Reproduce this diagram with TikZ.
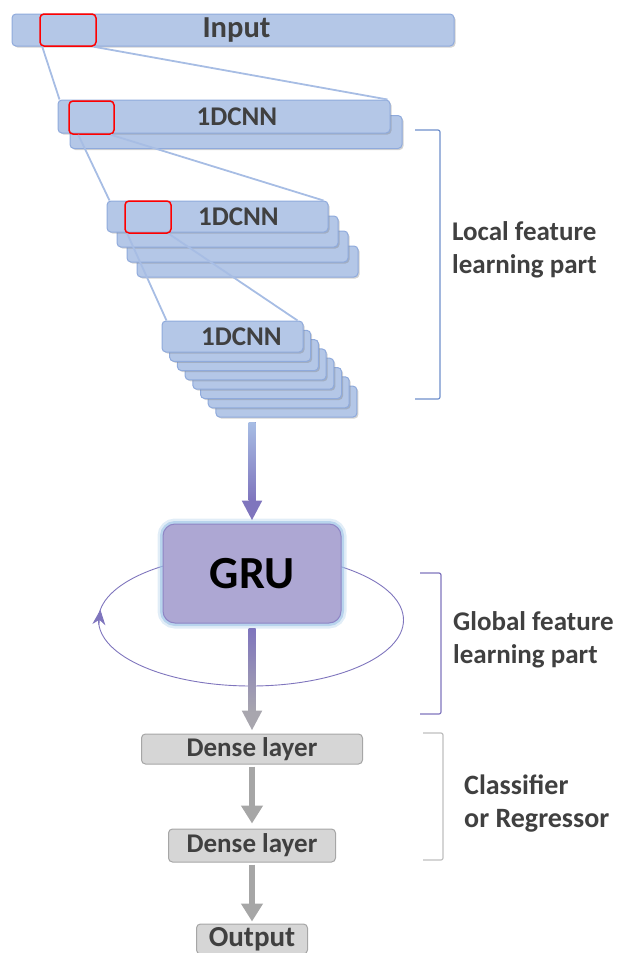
\documentclass[tikz,border=0pt]{standalone}
\usepackage{fontspec}
\setmainfont{Carlito}
\usepackage{tikz}
\usetikzlibrary{shapes,arrows.meta,positioning,calc,shadows}
\usepackage{xcolor}
\definecolor{layerfill}{HTML}{B4C7E7}
\definecolor{layerdraw}{HTML}{8FAADC}
\definecolor{linkblue}{HTML}{A7BDE4}
\definecolor{textgray}{HTML}{404040}
\definecolor{grufill}{HTML}{ADA7D3}
\definecolor{grudraw}{HTML}{8E85C5}
\definecolor{glowblue}{HTML}{9DC3E6}
\definecolor{loopviolet}{HTML}{7F75BD}
\definecolor{densefill}{HTML}{D6D6D6}
\definecolor{densedraw}{HTML}{A6A6A6}
\definecolor{arrowgray}{HTML}{A8A6AE}
\definecolor{bracketblue}{HTML}{6F8FCB}
\definecolor{bracketgray}{HTML}{BFBFBF}

\begin{document}
\begin{tikzpicture}[
    x=1pt, y=-1pt,
    layer/.style={rectangle, draw=layerdraw, fill=layerfill, line width=1pt, rounded corners=4pt, inner sep=0pt, drop shadow={shadow xshift=1.5pt, shadow yshift=-1.5pt, opacity=0.35}},
    lbl/.style={text=textgray, font=\bfseries\fontsize{27}{31}\selectfont},
    window/.style={rectangle, draw=red, line width=1.5pt, rounded corners=4pt, inner sep=0pt},
    link/.style={draw=linkblue, line width=1.8pt},
    gru/.style={rectangle, draw=grudraw, fill=grufill, line width=1pt, rounded corners=12pt, minimum width=178pt, minimum height=99pt, font=\bfseries\fontsize{46}{52}\selectfont,
        preaction={draw=glowblue, line width=11pt, opacity=0.3}, preaction={draw=glowblue, line width=6pt, opacity=0.6}},
    dense/.style={rectangle, draw=densedraw, fill=densefill, line width=1pt, rounded corners=4pt, inner sep=0pt, text=textgray, font=\bfseries\fontsize{27}{31}\selectfont},
    bigarrow/.style={line width=7pt, -{Triangle[length=20pt, width=19pt]}},
    grayarrow/.style={line width=6pt, draw=densedraw, -{Triangle[length=18pt, width=21pt]}},
    bracket/.style={line width=1.2pt, rounded corners=2pt},
    side/.style={anchor=west, inner sep=0pt, align=left, text=textgray, font=\bfseries\fontsize{27}{33}\selectfont}
]
\useasboundingbox (0,0) rectangle (619,953);

% Input sequence
\node[layer, minimum width=442pt, minimum height=32pt, label={[lbl, xshift=3.5pt, font=\bfseries\fontsize{30.5}{34}\selectfont]center:Input}] (input) at (233,30) {};

% first 1DCNN stage
\node[layer, minimum width=332pt, minimum height=33pt] (cnnA1) at ($(224,116.5)+(12,15.5)$) {};
\node[layer, minimum width=332pt, minimum height=33pt, label={[lbl, xshift=13pt]center:1DCNN}] (cnnA) at (224,116.5) {};

% second 1DCNN stage
\foreach \i in {3,2,1}
    \node[layer, minimum width=221pt, minimum height=31pt] (cnnB\i) at ($(217.5,216.5)+(\i*10,\i*15)$) {};
\node[layer, minimum width=221pt, minimum height=31pt, label={[lbl, xshift=21pt]center:1DCNN}] (cnnB) at (217.5,216.5) {};

% third 1DCNN stage
\foreach \i in {7,...,1}
    \node[layer, minimum width=141pt, minimum height=31pt] (cnnC\i) at ($(232.5,336.5)+(\i*7.7,\i*9.3)$) {};
\node[layer, minimum width=141pt, minimum height=31pt, label={[lbl, xshift=9pt]center:1DCNN}] (cnnC) at (232.5,336.5) {};

% receptive windows
\node[window, minimum width=56pt, minimum height=32pt] (win1) at (68,30) {};
\node[window, minimum width=45pt, minimum height=33pt] (win2) at (91.5,117.5) {};
\node[window, minimum width=46pt, minimum height=32pt] (win3) at (148,217) {};

\draw[link] ([xshift=3pt]win1.south west) -- ([xshift=2pt]cnnA.north west);
\draw[link] ([xshift=-3pt]win1.south east) -- ([xshift=-3pt]cnnA.north east);
\draw[link] ([xshift=10pt]win2.south west) -- ([xshift=3pt]cnnB.north west);
\draw[link] ([xshift=-4pt]win2.south east) -- ([xshift=-5pt]cnnB.north east);
\draw[link] ([xshift=3pt]win3.south west) -- ([xshift=5pt]cnnC.north west);
\draw[link] ([xshift=-3pt]win3.south east) -- ([xshift=-6pt]cnnC.north east);

% recurrent loop
\coordinate (loopc) at (251,620);
\coordinate (looptail) at ($(loopc)+(176:152.5 and 66)$);
\coordinate (loophead) at ($(loopc)+(189:152.5 and 66)$);
\draw[loopviolet, line width=0.9pt] (loopc) ellipse [x radius=152.5, y radius=66];
\draw[loopviolet, line width=0.9pt, -{Stealth[length=15pt, width=13pt]}] (looptail) -- (loophead);

% GRU and classifier
\node[gru] (gru) at (252,573.5) {GRU};
\node[dense, minimum width=221pt, minimum height=30pt, below=110pt of gru] (dense1) {Dense layer};
\node[dense, minimum width=167pt, minimum height=33pt, below=64pt of dense1] (dense2) {Dense layer};
\node[dense, minimum width=111pt, minimum height=30pt, below=61pt of dense2, font=\bfseries\fontsize{29}{34}\selectfont] (out) {Output};

% arrows
\coordinate (stackout) at (252,422);
\draw[bigarrow, draw=loopviolet, shorten >=3pt] (stackout) -- (gru);
\shade[top color=linkblue, bottom color=loopviolet] ($(stackout)+(-3.5,0)$) rectangle ($(gru.north)+(3.5,-23)$);
\draw[bigarrow, draw=arrowgray, shorten <=5pt, shorten >=3pt] (gru) -- (dense1);
\shade[top color=loopviolet, bottom color=arrowgray] ($(gru.south)+(-3.5,5)$) rectangle ($(dense1.north)+(3.5,-21)$);
\draw[grayarrow, shorten <=2pt, shorten >=5pt] (dense1) -- (dense2);
\draw[grayarrow, shorten <=2pt, shorten >=2pt] (dense2) -- (out);

% brackets and captions
\draw[bracket, bracketblue] (415,130) -- (440,130) -- (440,399) -- (415,399);
\draw[bracket, loopviolet] (420,573) -- (441,573) -- (441,714) -- (420,714);
\draw[bracket, bracketgray] (423,733) -- (443,733) -- (443,860) -- (423,860);
\node[side] (localtxt) at (452,250) {Local feature\\learning part};
\node[side] (globaltxt) at (453,640) {Global feature\\learning part};
\node[side, font=\bfseries\fontsize{28}{33}\selectfont] (clftxt) at (464,804) {Classifier\\or Regressor};

\end{tikzpicture}
\end{document}
